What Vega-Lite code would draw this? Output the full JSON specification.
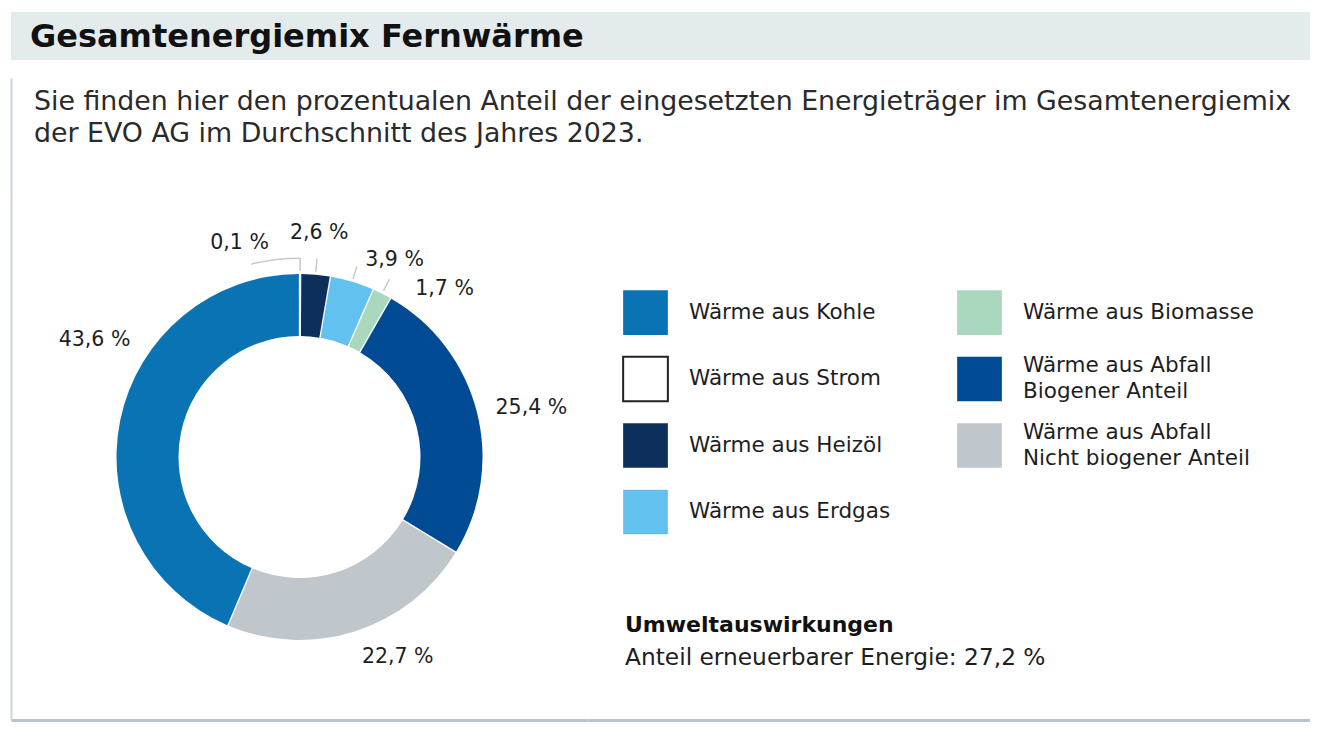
{
  "$schema": "https://vega.github.io/schema/vega-lite/v6.json",
  "padding": {"left": 11, "top": 12, "right": 0, "bottom": 0},
  "background": "white",
  "config": {
    "view": {"stroke": null},
    "font": "DejaVu Sans",
    "text": {"color": "#1e1e1e", "font": "DejaVu Sans"}
  },
  "spacing": 18,
  "vconcat": [
    {
      "width": 1299,
      "height": 48,
      "view": {"fill": "#e4ebec", "stroke": null},
      "data": {"values": [{}]},
      "mark": {"type": "text", "align": "left", "baseline": "middle", "fontWeight": "bold", "fontSize": 32, "dx": 19, "dy": 1, "color": "#111111"},
      "encoding": {
        "x": {"datum": 0, "type": "quantitative", "scale": {"domain": [0, 1], "nice": false, "zero": false}, "axis": null},
        "text": {"value": "Gesamtenergiemix Fernwärme"}
      }
    },
    {
      "spacing": 0,
      "vconcat": [
        {
          "width": 1299,
          "height": 116,
          "data": {"values": [{}]},
          "mark": {"type": "text", "align": "left", "baseline": "alphabetic", "fontSize": 26.8, "lineHeight": 32, "dx": 23, "dy": 32, "color": "#2a2a2a"},
          "encoding": {
            "x": {"datum": 0, "type": "quantitative", "scale": {"domain": [0, 1], "nice": false, "zero": false}, "axis": null},
            "y": {"datum": 1, "type": "quantitative", "scale": {"domain": [0, 1], "nice": false, "zero": false},
                  "axis": {"domain": true, "domainColor": "#cdd3da", "domainWidth": 2, "ticks": false, "labels": false, "grid": false, "title": null, "minExtent": 0, "maxExtent": 0}},
            "text": {"value": ["Sie finden hier den prozentualen Anteil der eingesetzten Energieträger im Gesamtenergiemix", "der EVO AG im Durchschnitt des Jahres 2023."]}
          }
        },
        {
          "spacing": 0,
          "bounds": "flush",
          "resolve": {"legend": {"color": "independent"}},
          "hconcat": [
            {
              "width": 577,
              "height": 526,
              "data": {"values": [
                {"cat": "Wärme aus Strom", "value": 0.1, "label": "0,1 %", "order": 1},
                {"cat": "Wärme aus Heizöl", "value": 2.6, "label": "2,6 %", "order": 2},
                {"cat": "Wärme aus Erdgas", "value": 3.9, "label": "3,9 %", "order": 3},
                {"cat": "Wärme aus Biomasse", "value": 1.7, "label": "1,7 %", "order": 4},
                {"cat": "Wärme aus Abfall|Biogener Anteil", "value": 25.4, "label": "25,4 %", "order": 5},
                {"cat": "Wärme aus Abfall|Nicht biogener Anteil", "value": 22.7, "label": "22,7 %", "order": 6},
                {"cat": "Wärme aus Kohle", "value": 43.6, "label": "43,6 %", "order": 7}
              ]},
              "layer": [
                {
                  "data": {"values": [{}]},
                  "mark": {"type": "text"},
                  "encoding": {
                    "x": {"datum": 0, "type": "quantitative", "scale": {"domain": [0, 1], "nice": false, "zero": false},
                          "axis": {"domain": true, "domainColor": "#b9c3cd", "domainWidth": 3, "ticks": false, "labels": false, "grid": false, "title": null, "minExtent": 0, "maxExtent": 0}},
                    "y": {"datum": 0, "type": "quantitative", "scale": {"domain": [0, 1], "nice": false, "zero": false},
                          "axis": {"domain": true, "domainColor": "#cdd3da", "domainWidth": 2, "ticks": false, "labels": false, "grid": false, "title": null, "minExtent": 0, "maxExtent": 0}},
                    "text": {"value": ""}
                  }
                },
                {
                  "mark": {"type": "arc", "radius": 183, "radius2": 121, "padAngle": 0.006},
                  "encoding": {
                    "theta": {"field": "value", "type": "quantitative", "stack": true},
                    "order": {"field": "order", "type": "quantitative"},
                    "color": {
                      "field": "cat", "type": "nominal",
                      "scale": {
                        "domain": ["Wärme aus Kohle", "Wärme aus Strom", "Wärme aus Heizöl", "Wärme aus Erdgas", "Wärme aus Biomasse", "Wärme aus Abfall|Biogener Anteil", "Wärme aus Abfall|Nicht biogener Anteil"],
                        "range": ["#0a73b4", "#ffffff", "#0c2f5c", "#62c1ee", "#a9d8bf", "#004b93", "#c0c7cc"]
                      },
                      "legend": {
                        "orient": "none", "legendX": 611, "legendY": 95,
                        "columns": 2, "title": null,
                        "symbolType": "square", "symbolSize": 2000,
                        "symbolStrokeWidth": 2,
                        "symbolStrokeColor": {"expr": "datum.value === 'Wärme aus Strom' ? '#222222' : 'rgba(0,0,0,0)'"},
                        "symbolOpacity": 1,
                        "labelFont": "DejaVu Sans", "labelFontSize": 21.5, "labelColor": "#1e1e1e",
                        "labelOffset": 20, "labelLimit": 500,
                        "labelExpr": "split(datum.label, '|')",
                        "columnPadding": 62, "rowPadding": 13.5,
                        "encode": {
                          "labels": {
                            "update": {
                              "dy": {"signal": "indexof(datum.label, '|') >= 0 ? -13 : 0"},
                              "lineHeight": {"value": 26}
                            }
                          }
                        }
                      }
                    }
                  }
                },
                {
                  "mark": {"type": "arc", "radius": 199, "radius2": 186, "padAngle": 1, "fill": "transparent", "strokeWidth": 1.5},
                  "encoding": {
                    "theta": {"field": "value", "type": "quantitative", "stack": true},
                    "order": {"field": "order", "type": "quantitative"},
                    "stroke": {"condition": {"test": "datum.order <= 4", "value": "#c8c8c8"}, "value": "transparent"}
                  }
                },
                {
                  "mark": {"type": "arc", "radius": 199.5, "radius2": 198, "thetaOffset": -0.4147},
                  "encoding": {
                    "theta": {"field": "value", "type": "quantitative", "stack": true},
                    "order": {"field": "order", "type": "quantitative"},
                    "fill": {"condition": {"test": "datum.order == 3", "value": "#c8c8c8"}, "value": "transparent"}
                  }
                },
                {
                  "mark": {"type": "text", "radius": 222, "thetaOffset": -0.2765, "fontSize": 20.5, "align": "center", "baseline": "middle"},
                  "encoding": {
                    "theta": {"field": "value", "type": "quantitative", "stack": true},
                    "order": {"field": "order", "type": "quantitative"},
                    "text": {"condition": {"test": "datum.order == 1", "field": "label"}, "value": ""}
                  }
                },
                {
                  "mark": {"type": "text", "radius": 225, "thetaOffset": 0, "fontSize": 20.5, "align": "center", "baseline": "middle"},
                  "encoding": {
                    "theta": {"field": "value", "type": "quantitative", "stack": true},
                    "order": {"field": "order", "type": "quantitative"},
                    "text": {"condition": {"test": "datum.order == 2", "field": "label"}, "value": ""}
                  }
                },
                {
                  "mark": {"type": "text", "radius": 219, "thetaOffset": 0.157, "fontSize": 20.5, "align": "center", "baseline": "middle"},
                  "encoding": {
                    "theta": {"field": "value", "type": "quantitative", "stack": true},
                    "order": {"field": "order", "type": "quantitative"},
                    "text": {"condition": {"test": "datum.order == 3", "field": "label"}, "value": ""}
                  }
                },
                {
                  "mark": {"type": "text", "radius": 222, "thetaOffset": 0.244, "fontSize": 20.5, "align": "center", "baseline": "middle"},
                  "encoding": {
                    "theta": {"field": "value", "type": "quantitative", "stack": true},
                    "order": {"field": "order", "type": "quantitative"},
                    "text": {"condition": {"test": "datum.order == 4", "field": "label"}, "value": ""}
                  }
                },
                {
                  "mark": {"type": "text", "radius": 237, "thetaOffset": 0.043, "fontSize": 20.5, "align": "center", "baseline": "middle"},
                  "encoding": {
                    "theta": {"field": "value", "type": "quantitative", "stack": true},
                    "order": {"field": "order", "type": "quantitative"},
                    "text": {"condition": {"test": "datum.order == 5", "field": "label"}, "value": ""}
                  }
                },
                {
                  "mark": {"type": "text", "radius": 223, "thetaOffset": -0.145, "fontSize": 20.5, "align": "center", "baseline": "middle"},
                  "encoding": {
                    "theta": {"field": "value", "type": "quantitative", "stack": true},
                    "order": {"field": "order", "type": "quantitative"},
                    "text": {"condition": {"test": "datum.order == 6", "field": "label"}, "value": ""}
                  }
                },
                {
                  "mark": {"type": "text", "radius": 236, "thetaOffset": 0.318, "fontSize": 20.5, "align": "center", "baseline": "middle"},
                  "encoding": {
                    "theta": {"field": "value", "type": "quantitative", "stack": true},
                    "order": {"field": "order", "type": "quantitative"},
                    "text": {"condition": {"test": "datum.order == 7", "field": "label"}, "value": ""}
                  }
                }
              ]
            },
            {
              "width": 722,
              "height": 526,
              "data": {"values": [{}]},
              "layer": [
                {
                  "mark": {"type": "text", "align": "left", "baseline": "alphabetic", "fontSize": 22, "fontWeight": "bold", "dx": 37, "dy": -88, "color": "#111111"},
                  "encoding": {
                    "x": {"datum": 0, "type": "quantitative", "scale": {"domain": [0, 1], "nice": false, "zero": false},
                          "axis": {"domain": true, "domainColor": "#b9c3cd", "domainWidth": 3, "ticks": false, "labels": false, "grid": false, "title": null, "minExtent": 0, "maxExtent": 0}},
                    "y": {"datum": 0, "type": "quantitative", "scale": {"domain": [0, 1], "nice": false, "zero": false}, "axis": null},
                    "text": {"value": "Umweltauswirkungen"}
                  }
                },
                {
                  "mark": {"type": "text", "align": "left", "baseline": "alphabetic", "fontSize": 23.3, "dx": 37, "dy": -55, "color": "#1e1e1e"},
                  "encoding": {
                    "x": {"datum": 0, "type": "quantitative"},
                    "y": {"datum": 0, "type": "quantitative"},
                    "text": {"value": "Anteil erneuerbarer Energie: 27,2 %"}
                  }
                }
              ]
            }
          ]
        }
      ]
    }
  ]
}
